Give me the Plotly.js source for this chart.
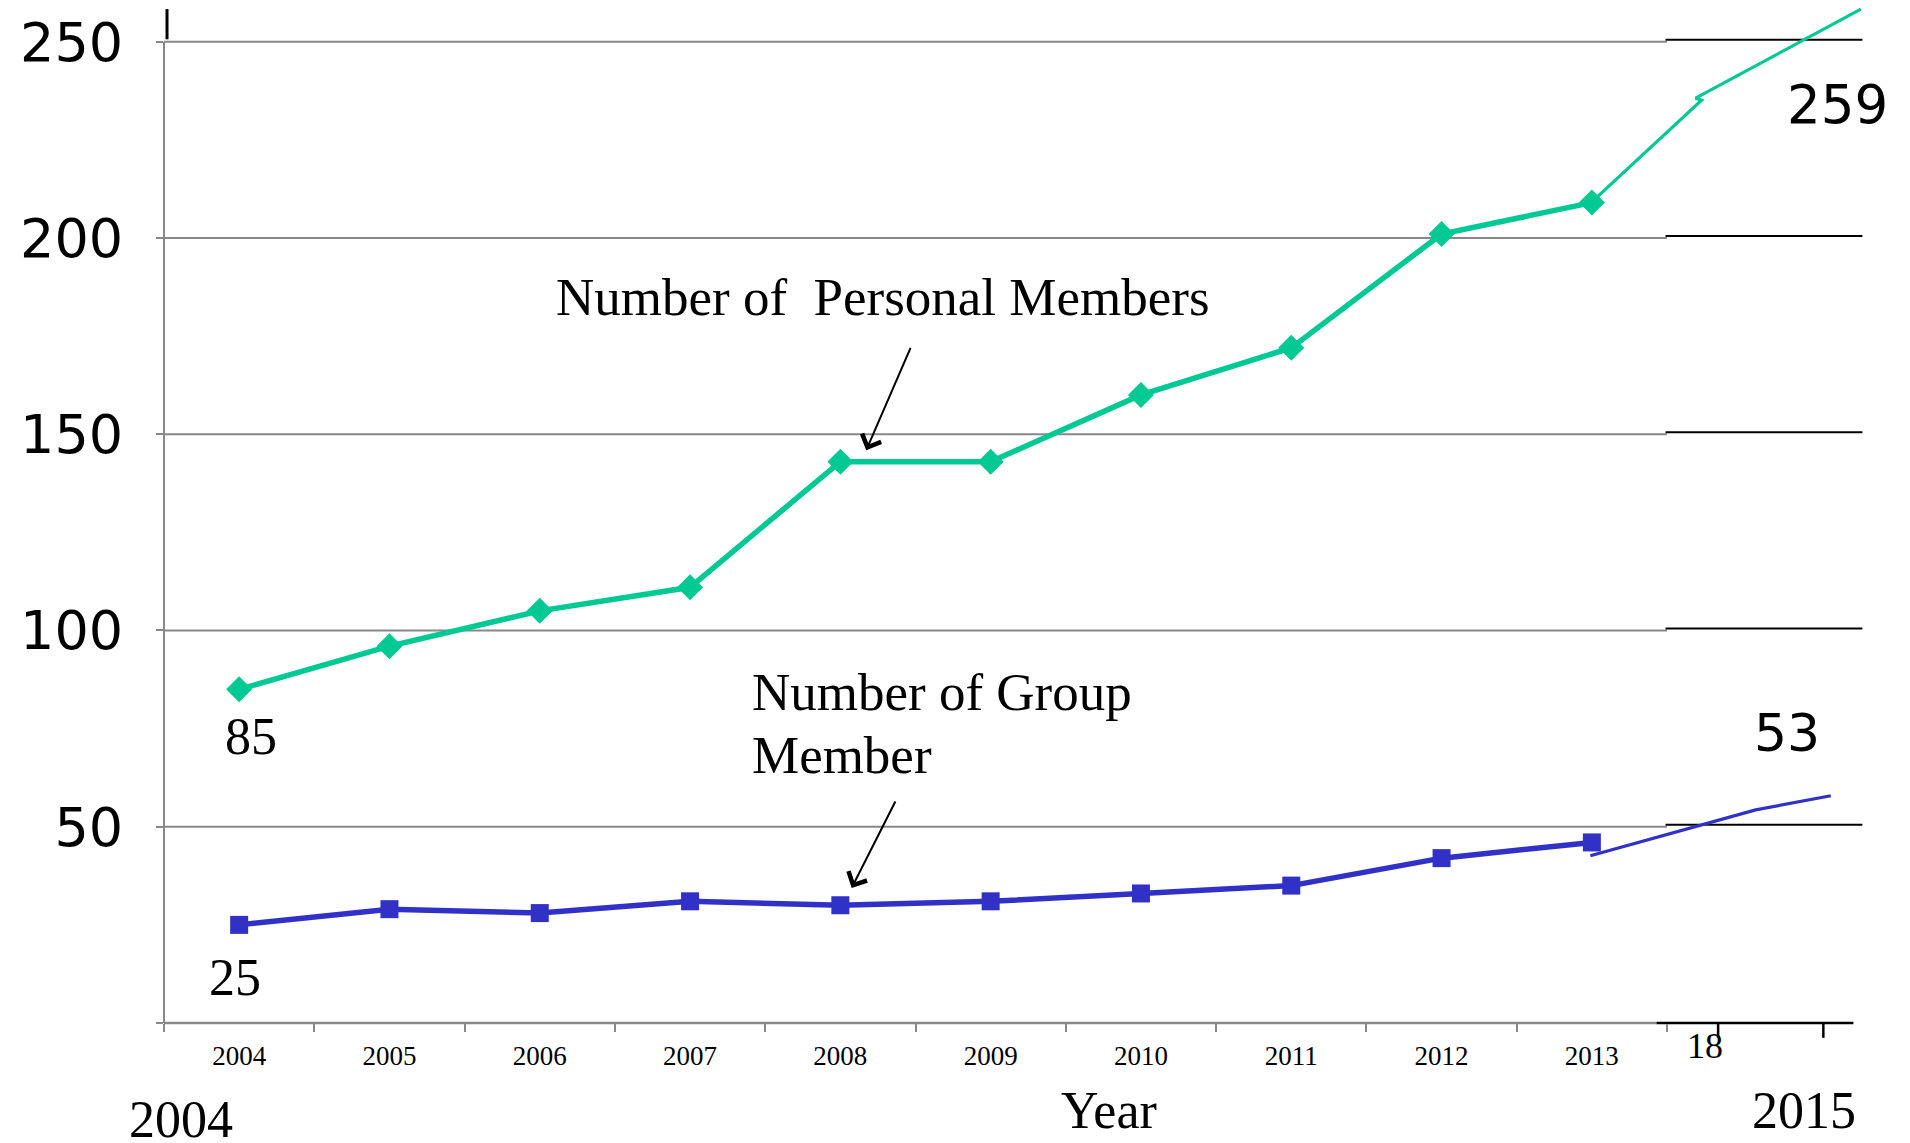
<!DOCTYPE html>
<html>
<head>
<meta charset="utf-8">
<script src="https://cdn.plot.ly/plotly-3.0.1.min.js"></script>
<style>html,body{margin:0;padding:0;background:#fff;}#chart{width:1910px;height:1143px;}</style>
</head>
<body>
<div id="chart"></div>
<script>
// ---- data ----
const years = ["2004","2005","2006","2007","2008","2009","2010","2011","2012","2013"];
const personalMembers = [85, 96, 105, 111, 143, 143, 160, 172, 201, 209];
const groupMembers = [25, 29, 28, 31, 30, 31, 33, 35, 42, 46];
// hand-drawn extension to 2015 (positions on the category scale)
const personalExtX = [9.0, 9.73, 9.69, 10.79];
const personalExtY = [209.2, 235.1, 235.6, 258.3];
const groupExtX = [8.99, 10.09, 10.59];
const groupExtY = [42.6, 54.3, 57.9];
const yTicks = [0, 50, 100, 150, 200, 250];
const yTickText = ["", "50", "100", "150", "200", "250"];

const GREEN = "#00C994";
const BLUE = "#3131C8";
const GREY = "#888888";
const xIdx = years.map((_, i) => i);

const traces = [
  {x: xIdx, y: personalMembers, mode: "lines+markers", type: "scatter",
   line: {color: GREEN, width: 5.5}, marker: {symbol: "diamond", size: 20, color: GREEN}},
  {x: xIdx, y: groupMembers, mode: "lines+markers", type: "scatter",
   line: {color: BLUE, width: 5.5}, marker: {symbol: "square", size: 18, color: BLUE}},
  {x: personalExtX, y: personalExtY, mode: "lines", type: "scatter",
   line: {color: GREEN, width: 3.2}},
  {x: groupExtX, y: groupExtY, mode: "lines", type: "scatter",
   line: {color: BLUE, width: 3.2}}
];

const shapes = [];
yTicks.filter(v => v > 0).forEach(v => {
  shapes.push({type: "line", layer: "below", xref: "x", yref: "y", x0: -0.5, x1: 9.5, y0: v, y1: v,
    line: {color: GREY, width: 2}});
  shapes.push({type: "line", layer: "below", xref: "x", yref: "y", x0: 9.49, x1: 10.8, y0: v + 0.5, y1: v + 0.5,
    line: {color: "#000", width: 2}});
});
// y axis line
shapes.push({type: "line", layer: "below", xref: "paper", yref: "y", x0: 0, x1: 0, y0: 0, y1: 250,
  line: {color: GREY, width: 2}});
// x axis lines (grey original, black pasted extension)
shapes.push({type: "line", layer: "below", xref: "x", yref: "paper", x0: -0.5, x1: 9.43, y0: 0, y1: 0,
  line: {color: GREY, width: 2.5}});
shapes.push({type: "line", layer: "below", xref: "x", yref: "paper", x0: 9.43, x1: 10.74, y0: 0, y1: 0,
  line: {color: "#000", width: 2.5}});
// black ticks of the pasted extension
[9.84, 10.54].forEach(t => shapes.push({type: "line", xref: "x", yref: "paper", x0: t, x1: t, y0: 0, y1: -0.0145,
  line: {color: "#000", width: 2.5}}));
// small black remnant at top-left
shapes.push({type: "line", xref: "x", yref: "y", x0: -0.48, x1: -0.48, y0: 250.6, y1: 258.3,
  line: {color: "#000", width: 3}});

const serif = "Liberation Serif, Times New Roman, serif";
const sans = "DejaVu Sans, sans-serif";
function lbl(text, x, y, yref, family, size) {
  return {text: text, x: x, y: y, xref: "x", yref: yref, xanchor: "center", yanchor: "middle",
    showarrow: false, font: {family: family, size: size, color: "#000"}};
}
const annotations = [
  {text: "Number of&nbsp; Personal Members", x: 2.093, y: 185.0, xref: "x", yref: "y", xanchor: "left", yanchor: "middle",
   showarrow: false, font: {family: serif, size: 53, color: "#000"}},
  {text: "Number of Group", x: 3.397, y: 84.3, xref: "x", yref: "y", xanchor: "left", yanchor: "middle",
   showarrow: false, font: {family: serif, size: 53, color: "#000"}},
  {text: "Member", x: 3.397, y: 68.3, xref: "x", yref: "y", xanchor: "left", yanchor: "middle",
   showarrow: false, font: {family: serif, size: 53, color: "#000"}},
  lbl("85", 0.08, 72.9, "y", serif, 52),
  lbl("25", -0.025, 11.5, "y", serif, 52),
  lbl("259", 10.633, 233.9, "y", sans, 53),
  lbl("53", 10.30, 73.9, "y", sans, 52),
  lbl("18", 9.754, -0.0225, "paper", serif, 36),
  lbl("Year", 5.789, -0.0861, "paper", serif, 52),
  lbl("2004", -0.386, -0.0949, "paper", serif, 52),
  lbl("2015", 10.413, -0.0861, "paper", serif, 52),
  {text: "", x: 4.172, y: 145.9, xref: "x", yref: "y", showarrow: true, ax: 45, ay: -104,
   arrowhead: 4, arrowsize: 2, arrowwidth: 2, arrowcolor: "#000", standoff: 0},
  {text: "", x: 4.075, y: 34.4, xref: "x", yref: "y", showarrow: true, ax: 44.5, ay: -88,
   arrowhead: 4, arrowsize: 2, arrowwidth: 2, arrowcolor: "#000", standoff: 0}
];

const layout = {
  width: 1910, height: 1143,
  margin: {l: 164, r: 30, t: 1, b: 120, pad: 0},
  paper_bgcolor: "#fff", plot_bgcolor: "#fff",
  showlegend: false,
  xaxis: {
    range: [-0.5, 10.917], autorange: false, automargin: false,
    tickmode: "array", tickvals: xIdx, ticktext: years,
    ticks: "", showgrid: false, zeroline: false, showline: false,
    tickfont: {family: serif, size: 27, color: "#000"},
    ticklabelstandoff: 14,
    minor: {tickmode: "array", tickvals: xIdx.map(i => i - 0.5).concat([9.5]), ticks: "outside",
            ticklen: 8, tickwidth: 2, tickcolor: GREY, showgrid: false}
  },
  yaxis: {
    range: [0, 260.36], autorange: false, automargin: false,
    tickmode: "array", tickvals: yTicks, ticktext: yTickText,
    ticks: "outside", ticklen: 7, tickwidth: 2, tickcolor: GREY,
    showgrid: false, zeroline: false, showline: false,
    tickfont: {family: sans, size: 54, color: "#000"},
    ticklabelstandoff: 22
  },
  shapes: shapes,
  annotations: annotations
};

Plotly.newPlot("chart", traces, layout, {displayModeBar: false, staticPlot: true});
</script>
</body>
</html>
